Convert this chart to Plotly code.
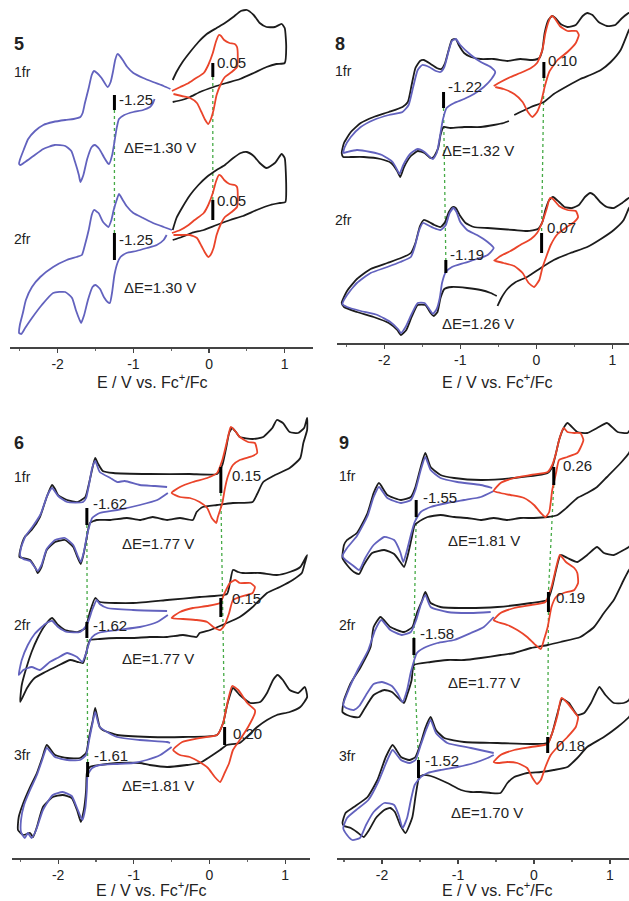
import plotly.graph_objects as go

# ---------------- data: (E / V vs Fc+/Fc, current a.u.) ----------------
# Panel 5
p5_fr1_blue = [(-0.51,258),(-0.60,261),(-0.74,265),(-0.87,269),(-1.00,274),(-1.08,280),(-1.14,287),(-1.19,292),(-1.21,293),(-1.24,287),(-1.27,275),(-1.30,265),(-1.34,260),(-1.42,269),(-1.48,274),(-1.52,276),(-1.55,272),(-1.59,259),(-1.64,244),(-1.67,234),(-1.70,230),(-1.79,228),(-1.90,227),(-2.06,225),(-2.19,222),(-2.30,216),(-2.39,208),(-2.45,197),(-2.50,187),(-2.51,183),
               (-2.49,182),(-2.43,185),(-2.32,191),(-2.19,198),(-2.04,202),(-1.90,201),(-1.82,196),(-1.77,185),(-1.72,172),(-1.70,165),(-1.66,172),(-1.61,188),(-1.55,200),(-1.51,202),(-1.45,198),(-1.39,190),(-1.34,184),(-1.32,183),(-1.28,192),(-1.25,205),(-1.22,219),(-1.19,228),(-1.12,232),(-1.00,235),(-0.87,237),(-0.78,240),(-0.74,244),(-0.72,248)]
p5_fr1_red = [(-0.49,256),(-0.38,260),(-0.27,264),(-0.19,268),(-0.07,274),(-0.01,282),(0.05,294),(0.09,305),(0.13,312),(0.16,311),(0.20,307),(0.27,304),(0.34,303),(0.37,300),(0.38,290),(0.37,280),(0.30,275),(0.21,270),(0.15,262),(0.10,252),(0.06,237),(0.02,227),(-0.01,223),(-0.05,227),(-0.10,235),(-0.16,244),(-0.25,249),(-0.36,251),(-0.47,253)]
p5_fr1_black = [(-0.48,245),(-0.36,247),(-0.25,250),(-0.12,255),(0.06,260),(0.23,264),(0.41,268),(0.59,274),(0.76,280),(0.89,283),(1.00,284),(1.02,300),(1.00,319),(0.96,323),(0.87,320),(0.76,320),(0.67,324),(0.59,332),(0.50,337),(0.42,336),(0.32,330),(0.21,324),(0.10,319),(-0.03,313),(-0.14,305),(-0.25,295),(-0.35,285),(-0.43,275),(-0.48,267)]
p5_fr2_blue = [(-0.49,117),(-0.60,120),(-0.74,124),(-0.87,129),(-1.00,134),(-1.09,141),(-1.14,147),(-1.19,153),(-1.22,147),(-1.26,137),(-1.29,127),(-1.33,120),(-1.40,125),(-1.46,134),(-1.52,137),(-1.55,132),(-1.59,117),(-1.64,102),(-1.68,92),(-1.75,90),(-1.88,87),(-2.06,80),(-2.23,70),(-2.34,60),(-2.42,47),(-2.46,34),(-2.50,22),(-2.51,14),
               (-2.48,13),(-2.43,19),(-2.34,29),(-2.21,42),(-2.06,54),(-1.90,55),(-1.81,49),(-1.76,37),(-1.71,27),(-1.69,24),(-1.65,32),(-1.60,47),(-1.54,60),(-1.50,62),(-1.44,58),(-1.39,50),(-1.34,45),(-1.31,44),(-1.28,55),(-1.25,72),(-1.21,84),(-1.17,90),(-1.09,94),(-0.96,96),(-0.82,99),(-0.69,102),(-0.60,107),(-0.56,112)]
p5_fr2_red = [(-0.49,114),(-0.38,117),(-0.27,122),(-0.19,127),(-0.07,134),(-0.01,142),(0.05,154),(0.09,165),(0.13,172),(0.16,171),(0.20,167),(0.27,163),(0.34,162),(0.37,160),(0.38,150),(0.37,140),(0.30,135),(0.21,130),(0.15,122),(0.10,112),(0.06,99),(0.02,92),(-0.01,90),(-0.05,94),(-0.10,101),(-0.16,109),(-0.25,112),(-0.36,112),(-0.47,112)]
p5_fr2_black = [(-0.48,107),(-0.36,110),(-0.23,114),(-0.07,117),(0.10,122),(0.28,127),(0.45,131),(0.63,137),(0.81,142),(0.94,144),(1.01,145),(1.02,160),(1.00,189),(0.96,193),(0.87,184),(0.76,179),(0.67,184),(0.59,191),(0.50,195),(0.42,194),(0.32,189),(0.21,182),(0.10,177),(-0.03,170),(-0.14,162),(-0.25,152),(-0.35,140),(-0.43,129),(-0.48,117)]

# Panel 8
p8_fr1_blue = [(-0.54,271),(-0.60,276),(-0.73,281),(-0.86,288),(-1.00,298),(-1.06,304),(-1.11,302),(-1.16,290),(-1.21,276),(-1.26,271),(-1.32,272),(-1.41,276),(-1.50,278),(-1.56,273),(-1.62,256),(-1.68,238),(-1.76,231),(-1.94,228),(-2.14,223),(-2.31,216),(-2.44,206),(-2.52,196),(-2.54,190),
               (-2.49,191),(-2.36,193),(-2.18,191),(-2.03,188),(-1.89,181),(-1.83,173),(-1.80,169),(-1.75,178),(-1.66,189),(-1.56,194),(-1.47,191),(-1.40,186),(-1.36,184),(-1.31,190),(-1.27,205),(-1.23,223),(-1.18,235),(-1.08,240),(-0.95,244),(-0.82,249),(-0.69,256),(-0.59,264),(-0.54,271)]
p8_fr1_red = [(-0.56,257),(-0.47,261),(-0.34,266),(-0.21,270),(-0.07,275),(0.01,280),(0.08,293),(0.12,310),(0.17,323),(0.20,327),(0.24,325),(0.31,317),(0.41,312),(0.53,312),(0.56,308),(0.52,300),(0.41,291),(0.28,283),(0.17,271),(0.11,256),(0.07,243),(0.01,231),(-0.05,226),(-0.11,231),(-0.18,241),(-0.29,249),(-0.43,254),(-0.54,256)]
p8_fr1_black = [(-0.29,228),(-0.21,231),(-0.07,236),(0.10,241),(0.23,249),(0.41,257),(0.58,264),(0.71,268),(0.85,273),(0.98,281),(1.11,293),(1.22,313),(1.29,323),(1.22,330),(1.13,325),(1.04,318),(0.93,317),(0.82,321),(0.74,328),(0.67,330),(0.61,327),(0.52,318),(0.41,316),(0.32,319),(0.25,325),(0.21,327),(0.16,323),(0.11,310),(0.08,293),(0.04,285),(-0.05,283),(-0.21,284),(-0.38,282),(-0.56,284),(-0.73,284),(-0.86,286),(-0.95,290),(-1.02,298),(-1.06,304),(-1.11,303),(-1.16,291),(-1.20,280),(-1.25,274),(-1.31,275),(-1.39,279),(-1.48,283),(-1.53,282),(-1.59,275),(-1.64,258),(-1.69,241),(-1.76,236),(-1.94,231),(-2.14,226),(-2.31,220),(-2.44,211),(-2.53,200),(-2.56,190),
                (-2.54,186),(-2.44,186),(-2.27,186),(-2.05,184),(-1.91,180),(-1.83,172),(-1.79,166),(-1.74,176),(-1.65,187),(-1.56,192),(-1.47,190),(-1.39,185),(-1.35,186),(-1.29,195),(-1.26,208),(-1.22,216),(-1.13,215),(-0.95,216),(-0.73,216),(-0.56,218),(-0.43,220),(-0.36,222)]
p8_fr2_blue = [(-0.56,95),(-0.64,101),(-0.78,108),(-0.91,113),(-1.00,121),(-1.05,131),(-1.09,135),(-1.14,130),(-1.19,118),(-1.26,113),(-1.35,115),(-1.43,118),(-1.49,120),(-1.54,113),(-1.60,96),(-1.65,86),(-1.79,81),(-1.96,76),(-2.18,70),(-2.36,60),(-2.49,48),(-2.55,39),
               (-2.49,36),(-2.31,32),(-2.09,28),(-1.92,21),(-1.82,14),(-1.78,10),(-1.72,16),(-1.64,29),(-1.56,40),(-1.47,40),(-1.40,33),(-1.36,29),(-1.31,34),(-1.27,45),(-1.24,60),(-1.19,71),(-1.11,76),(-0.95,80),(-0.78,84),(-0.64,88),(-0.56,95)]
p8_fr2_red = [(-0.56,82),(-0.47,87),(-0.34,92),(-0.21,98),(-0.07,104),(0.01,110),(0.08,121),(0.14,135),(0.18,145),(0.22,144),(0.30,137),(0.41,133),(0.52,132),(0.55,126),(0.50,121),(0.40,116),(0.28,109),(0.19,98),(0.13,86),(0.08,75),(0.04,63),(-0.03,56),(-0.10,60),(-0.18,70),(-0.29,77),(-0.43,80),(-0.54,82)]
p8_fr2_black = [(-0.51,37),(-0.46,45),(-0.38,54),(-0.27,61),(-0.12,66),(0.06,75),(0.23,83),(0.45,90),(0.67,96),(0.85,104),(1.02,113),(1.15,123),(1.22,135),(1.29,143),(1.22,145),(1.13,140),(1.02,135),(0.93,136),(0.84,141),(0.76,148),(0.71,150),(0.64,146),(0.56,138),(0.47,135),(0.37,136),(0.30,141),(0.22,146),(0.17,143),(0.12,133),(0.08,121),(0.02,114),(-0.12,112),(-0.29,113),(-0.47,114),(-0.64,115),(-0.82,116),(-0.93,120),(-1.00,127),(-1.06,135),(-1.10,136),(-1.15,131),(-1.20,121),(-1.26,116),(-1.34,118),(-1.41,121),(-1.48,123),(-1.53,117),(-1.59,100),(-1.65,90),(-1.78,85),(-1.96,80),(-2.18,74),(-2.36,64),(-2.49,52),(-2.56,40),
                (-2.53,36),(-2.36,31),(-2.14,26),(-1.94,20),(-1.83,13),(-1.78,8),(-1.71,13),(-1.64,26),(-1.56,38),(-1.46,38),(-1.39,30),(-1.35,27),(-1.30,31),(-1.26,45),(-1.21,54),(-1.11,56),(-0.91,55),(-0.73,53),(-0.60,50),(-0.52,47)]

# Panel 6
p6_fr1_blue = [(-0.56,371),(-0.72,372),(-0.92,373),(-1.12,377),(-1.22,376),(-1.31,380),(-1.45,386),(-1.51,397),(-1.55,390),(-1.59,374),(-1.63,360),(-1.67,356),(-1.88,356),(-2.00,362),(-2.08,370),(-2.14,363),(-2.23,344),(-2.34,331),(-2.43,322),(-2.49,310),(-2.50,302),
               (-2.46,299),(-2.37,297),(-2.31,291),(-2.27,287),(-2.22,293),(-2.15,309),(-2.04,318),(-1.91,320),(-1.80,313),(-1.74,302),(-1.70,296),(-1.66,306),(-1.62,322),(-1.59,331),(-1.55,340),(-1.45,345),(-1.22,348),(-0.92,353),(-0.69,358),(-0.55,365)]
p6_fr1_red = [(-0.50,365),(-0.39,371),(-0.22,376),(-0.03,380),(0.10,385),(0.17,398),(0.22,413),(0.26,426),(0.28,431),(0.34,427),(0.40,421),(0.51,416),(0.60,415),(0.63,405),(0.57,402),(0.40,398),(0.31,393),(0.24,381),(0.20,368),(0.17,355),(0.11,341),(0.09,335),(0.03,340),(-0.03,350),(-0.13,356),(-0.26,360),(-0.39,361),(-0.50,365)]
p6_fr1_black = [(0.10,384),(0.17,393),(0.22,410),(0.26,425),(0.30,430),(0.35,426),(0.40,421),(0.57,419),(0.71,421),(0.83,430),(0.89,438),(0.97,435),(1.06,426),(1.17,425),(1.25,430),(1.29,440),(1.29,428),(1.24,415),(1.20,400),(1.06,390),(0.84,382),(0.71,376),(0.63,364),(0.57,356),(0.31,355),(0.10,353),(-0.09,351),(-0.17,346),(-0.22,338),(-0.39,340),(-0.56,338),(-0.75,341),(-0.92,338),(-1.09,340),(-1.31,338),(-1.49,338),(-1.58,335),(-1.62,321),(-1.66,305),(-1.70,294),(-1.74,300),(-1.80,311),(-1.91,318),(-2.04,316),(-2.15,308),(-2.22,291),(-2.27,285),(-2.30,290),(-2.37,298),(-2.46,300),(-2.51,301),
                (-2.49,311),(-2.44,321),(-2.35,328),(-2.24,341),(-2.15,361),(-2.08,373),(-2.04,369),(-2.00,363),(-1.88,358),(-1.74,356),(-1.64,361),(-1.59,375),(-1.54,392),(-1.51,400),(-1.47,394),(-1.41,387),(-1.27,385),(-0.79,384),(-0.26,384),(0.10,384)]
p6_fr2_blue = [(-0.56,247),(-1.01,248),(-1.35,250),(-1.45,254),(-1.49,258),(-1.55,248),(-1.62,233),(-1.71,226),(-1.88,226),(-2.00,231),(-2.08,237),(-2.17,234),(-2.31,224),(-2.40,213),(-2.48,198),(-2.52,183),
               (-2.46,188),(-2.35,191),(-2.24,188),(-2.11,196),(-2.01,200),(-1.88,205),(-1.75,201),(-1.68,196),(-1.63,205),(-1.59,215),(-1.55,221),(-1.47,225),(-1.22,228),(-0.92,231),(-0.69,236),(-0.55,243)]
p6_fr2_red = [(-0.50,240),(-0.39,246),(-0.22,250),(-0.03,252),(0.14,255),(0.20,265),(0.27,275),(0.34,278),(0.40,275),(0.54,275),(0.60,271),(0.57,265),(0.40,261),(0.31,258),(0.26,245),(0.20,233),(0.14,228),(0.05,231),(-0.03,236),(-0.17,238),(-0.35,239),(-0.50,240)]
p6_fr2_black = [(0.23,264),(0.27,275),(0.31,288),(0.38,286),(0.44,285),(0.67,285),(0.89,283),(1.06,286),(1.20,291),(1.29,303),(1.26,295),(1.22,285),(1.10,278),(0.93,271),(0.76,265),(0.57,251),(0.40,241),(0.23,235),(0.01,228),(-0.13,225),(-0.17,221),(-0.35,223),(-0.56,221),(-0.79,221),(-1.01,220),(-1.22,220),(-1.45,219),(-1.58,218),(-1.61,211),(-1.63,205),(-1.67,195),(-1.74,196),(-1.84,198),(-2.01,192),(-2.17,186),(-2.31,180),(-2.41,170),(-2.50,156),
                (-2.48,173),(-2.42,190),(-2.35,206),(-2.27,220),(-2.17,233),(-2.08,240),(-2.00,233),(-1.91,228),(-1.74,226),(-1.64,230),(-1.58,246),(-1.51,260),(-1.45,256),(-1.01,255),(-0.56,258),(-0.13,261),(0.23,264)]
p6_fr3_blue = [(-0.52,115),(-0.56,116),(-0.92,118),(-1.22,121),(-1.45,131),(-1.51,146),(-1.55,133),(-1.59,118),(-1.63,103),(-1.71,98),(-1.88,98),(-2.04,101),(-2.15,110),(-2.21,98),(-2.28,83),(-2.37,68),(-2.45,53),(-2.49,38),(-2.49,26),
               (-2.44,20),(-2.40,25),(-2.35,20),(-2.29,28),(-2.20,48),(-2.07,63),(-1.94,66),(-1.82,62),(-1.75,50),(-1.68,38),(-1.64,50),(-1.62,68),(-1.61,83),(-1.55,90),(-1.45,93),(-1.22,94),(-1.01,95),(-0.83,98),(-0.65,103),(-0.50,111)]
p6_fr3_red = [(-0.48,108),(-0.36,116),(-0.13,120),(0.10,123),(0.18,135),(0.24,156),(0.30,172),(0.38,168),(0.50,155),(0.60,148),(0.60,145),(0.51,131),(0.40,118),(0.31,108),(0.26,95),(0.20,85),(0.14,76),(0.07,81),(-0.02,90),(-0.13,96),(-0.26,101),(-0.39,103),(-0.48,108)]
p6_fr3_black = [(0.10,123),(0.18,135),(0.24,155),(0.31,170),(0.40,163),(0.54,155),(0.67,156),(0.76,165),(0.84,178),(0.90,183),(0.97,178),(1.06,168),(1.17,165),(1.26,171),(1.29,161),(1.20,151),(1.06,146),(0.89,143),(0.76,138),(0.63,131),(0.40,115),(0.23,113),(0.14,108),(-0.13,95),(-0.30,93),(-0.56,91),(-0.79,93),(-0.92,95),(-1.22,95),(-1.45,93),(-1.58,91),(-1.62,85),(-1.63,68),(-1.66,48),(-1.70,36),(-1.75,48),(-1.82,60),(-1.94,63),(-2.07,61),(-2.20,51),(-2.28,31),(-2.33,21),(-2.37,25),(-2.46,23),(-2.53,28),
                (-2.52,41),(-2.46,55),(-2.37,71),(-2.28,85),(-2.21,100),(-2.15,113),(-2.04,103),(-1.88,100),(-1.71,100),(-1.63,105),(-1.59,121),(-1.54,138),(-1.51,150),(-1.45,131),(-1.41,128),(-1.22,123),(-0.79,121),(-0.35,121),(0.10,123)]

# Panel 9
p9_fr1_blue = [(-0.55,370),(-0.70,373),(-1.01,376),(-1.23,380),(-1.36,388),(-1.43,401),(-1.49,388),(-1.56,368),(-1.62,358),(-1.75,355),(-1.93,360),(-2.04,371),(-2.11,361),(-2.19,342),(-2.33,322),(-2.46,310),(-2.52,302),
               (-2.48,298),(-2.39,293),(-2.30,288),(-2.22,300),(-2.11,313),(-1.97,321),(-1.84,318),(-1.76,306),(-1.72,296),(-1.67,308),(-1.62,323),(-1.57,336),(-1.49,346),(-1.36,351),(-1.14,355),(-0.92,358),(-0.70,361),(-0.53,367)]
p9_fr1_red = [(-0.53,367),(-0.44,375),(-0.26,380),(-0.04,383),(0.18,386),(0.24,393),(0.29,405),(0.33,418),(0.39,430),(0.44,426),(0.53,425),(0.61,425),(0.65,418),(0.61,410),(0.57,405),(0.44,401),(0.33,398),(0.29,385),(0.24,368),(0.20,346),(0.15,341),(0.09,345),(0.00,353),(-0.13,360),(-0.31,363),(-0.44,365),(-0.53,367)]
p9_fr1_black = [(1.30,413),(1.25,405),(1.14,395),(0.96,381),(0.83,371),(0.70,365),(0.57,360),(0.44,351),(0.31,343),(0.18,341),(0.00,340),(-0.18,340),(-0.35,338),(-0.53,340),(-0.70,338),(-0.88,340),(-1.05,341),(-1.23,343),(-1.40,341),(-1.54,335),(-1.57,333),(-1.61,320),(-1.66,303),(-1.71,291),(-1.76,296),(-1.84,304),(-1.97,308),(-2.13,305),(-2.24,293),(-2.30,284),(-2.37,286),(-2.46,293),(-2.52,300),
                (-2.50,313),(-2.46,318),(-2.33,325),(-2.19,345),(-2.11,365),(-2.04,375),(-1.93,363),(-1.75,358),(-1.62,361),(-1.56,371),(-1.49,391),(-1.43,405),(-1.36,391),(-1.23,383),(-1.05,380),(-0.70,378),(-0.26,380),(0.18,385),(0.24,391),(0.29,405),(0.33,418),(0.39,430),(0.44,435),(0.57,426),(0.70,425),(0.83,430),(0.96,435),(1.10,426),(1.23,425),(1.30,433)]
p9_fr2_blue = [(-0.57,246),(-0.83,245),(-1.14,246),(-1.36,251),(-1.43,263),(-1.49,253),(-1.55,238),(-1.62,226),(-1.74,223),(-1.89,228),(-2.01,238),(-2.09,228),(-2.18,208),(-2.32,188),(-2.43,170),(-2.51,153),
               (-2.47,150),(-2.37,148),(-2.30,152),(-2.21,163),(-2.11,174),(-2.00,176),(-1.87,172),(-1.79,164),(-1.73,156),(-1.67,168),(-1.62,186),(-1.54,205),(-1.45,210),(-1.27,215),(-1.05,218),(-0.83,225),(-0.66,231),(-0.53,241)]
p9_fr2_red = [(-0.53,238),(-0.44,245),(-0.26,250),(-0.04,253),(0.15,256),(0.23,271),(0.29,290),(0.34,303),(0.42,296),(0.53,290),(0.57,285),(0.58,275),(0.53,268),(0.39,265),(0.29,261),(0.23,251),(0.18,231),(0.13,218),(0.09,209),(0.02,213),(-0.09,221),(-0.22,228),(-0.35,233),(-0.48,236),(-0.53,238)]
p9_fr2_black = [(1.30,293),(1.25,288),(1.18,278),(1.05,258),(0.92,245),(0.79,231),(0.61,221),(0.35,216),(0.18,213),(-0.04,210),(-0.26,205),(-0.44,203),(-0.70,200),(-0.92,198),(-1.14,198),(-1.36,196),(-1.58,193),(-1.61,178),(-1.67,163),(-1.71,155),(-1.76,158),(-1.87,166),(-1.97,168),(-2.11,163),(-2.24,148),(-2.30,141),(-2.37,141),(-2.46,143),(-2.52,146),
                (-2.50,158),(-2.41,175),(-2.28,191),(-2.15,211),(-2.11,231),(-2.02,241),(-1.89,231),(-1.71,226),(-1.60,231),(-1.54,245),(-1.47,258),(-1.43,266),(-1.36,255),(-1.23,251),(-0.92,250),(-0.48,251),(-0.04,255),(0.18,258),(0.24,271),(0.29,288),(0.35,303),(0.44,300),(0.57,296),(0.70,303),(0.83,311),(0.92,305),(1.05,303),(1.18,308),(1.25,311),(1.30,318)]
p9_fr3_blue = [(-0.53,105),(-0.83,110),(-1.14,115),(-1.29,125),(-1.36,138),(-1.42,128),(-1.49,113),(-1.56,98),(-1.64,95),(-1.75,98),(-1.86,108),(-1.93,98),(-2.05,76),(-2.18,58),(-2.34,48),(-2.46,40),(-2.51,30),
               (-2.46,23),(-2.39,18),(-2.29,20),(-2.21,33),(-2.11,46),(-1.97,55),(-1.84,53),(-1.78,43),(-1.73,30),(-1.67,40),(-1.62,58),(-1.57,73),(-1.49,81),(-1.40,85),(-1.23,88),(-1.01,91),(-0.79,95),(-0.61,100),(-0.53,103)]
p9_fr3_red = [(-0.53,96),(-0.44,103),(-0.26,108),(-0.04,111),(0.18,114),(0.24,125),(0.31,143),(0.36,160),(0.44,155),(0.53,146),(0.58,141),(0.55,131),(0.44,121),(0.31,111),(0.22,103),(0.15,91),(0.09,78),(0.04,74),(-0.02,80),(-0.09,90),(-0.22,95),(-0.35,96),(-0.48,95),(-0.53,96)]
p9_fr3_black = [(1.30,146),(1.25,141),(1.10,131),(0.92,121),(0.70,111),(0.57,100),(0.44,91),(0.26,88),(0.09,86),(-0.09,85),(-0.26,81),(-0.35,75),(-0.44,65),(-0.57,65),(-0.70,66),(-0.83,66),(-0.96,68),(-1.14,75),(-1.32,81),(-1.45,83),(-1.51,81),(-1.53,75),(-1.56,61),(-1.60,41),(-1.69,25),(-1.76,33),(-1.83,46),(-1.89,50),(-1.97,48),(-2.08,40),(-2.17,28),(-2.24,21),(-2.33,26),(-2.41,30),(-2.50,32),(-2.52,35),
                (-2.48,45),(-2.37,51),(-2.19,61),(-2.06,78),(-1.95,101),(-1.86,113),(-1.75,101),(-1.64,98),(-1.56,101),(-1.49,115),(-1.43,130),(-1.36,141),(-1.29,128),(-1.18,120),(-0.92,116),(-0.48,115),(-0.04,114),(0.18,115),(0.24,125),(0.31,145),(0.37,159),(0.46,155),(0.57,143),(0.66,145),(0.75,155),(0.86,171),(0.94,163),(1.05,155),(1.18,155),(1.25,158),(1.30,168)]

# half-wave potential markers: (E, I_top, I_bottom)
p5_marks = [(-1.25,252,237),(0.05,284,270),(-1.25,114,87),(0.05,147,127)]
p8_marks = [(-1.22,251,235),(0.10,281,265),(-1.19,83,70),(0.07,110,90)]
p6_marks = [(-1.62,350,333),(0.15,391,365),(-1.62,236,220),(0.15,260,241),(-1.61,96,81),(0.20,131,113)]
p9_marks = [(-1.55,358,341),(0.26,391,373),(-1.58,220,203),(0.19,266,246),(-1.52,98,80),(0.18,121,105)]

# value labels: (text, E, I)
p5_labels = [("-1.25",-1.22,248),("0.05",0.08,285),("-1.25",-1.22,108),("0.05",0.08,147)]
p8_labels = [("-1.22",-1.19,257),("0.10",0.13,283),("-1.19",-1.16,89),("0.07",0.11,116)]
p6_labels = [("-1.62",-1.56,355),("0.15",0.27,383),("-1.62",-1.56,233),("0.15",0.27,260),("-1.61",-1.55,103),("0.20",0.29,125)]
p9_labels = [("-1.55",-1.49,361),("0.26",0.35,393),("-1.58",-1.52,225),("0.19",0.26,261),("-1.52",-1.46,98),("0.18",0.26,113)]

# separation labels: (text, E, I)
p5_dE = [("ΔE=1.30 V",-0.65,200),("ΔE=1.30 V",-0.65,60)]
p8_dE = [("ΔE=1.32 V",-0.77,193),("ΔE=1.26 V",-0.77,20)]
p6_dE = [("ΔE=1.77 V",-0.68,315),("ΔE=1.77 V",-0.68,200),("ΔE=1.81 V",-0.68,73)]
p9_dE = [("ΔE=1.81 V",-0.66,318),("ΔE=1.77 V",-0.66,176),("ΔE=1.70 V",-0.62,46)]

# guide lines (E, I) pairs
p5_guides = [[(-1.25,237),(-1.25,114)],[(0.05,270),(0.05,147)]]
p8_guides = [[(-1.22,235),(-1.19,83)],[(0.10,265),(0.07,110)]]
p6_guides = [[(-1.62,333),(-1.61,96)],[(0.15,365),(0.20,131)]]
p9_guides = [[(-1.55,341),(-1.58,220)],[(-1.58,203),(-1.52,98)],[(0.26,373),(0.19,266)],[(0.19,246),(0.18,121)]]

tick_vals = [-2, -1, 0, 1]
tick_text = ["-2", "-1", "0", "1"]

# ---------------- figure ----------------
W, H = 629, 901
BLUE = "rgb(98,98,190)"
RED = "rgb(234,68,42)"
BLACK = "rgb(28,28,28)"
GREEN = "rgb(70,170,70)"
TXT = "#222222"
FONT = "Liberation Sans, Arial, sans-serif"

fig = go.Figure()

panels = [
    dict(ax="", curves=[(p5_fr1_black, BLACK), (p5_fr1_blue, BLUE), (p5_fr1_red, RED),
                        (p5_fr2_black, BLACK), (p5_fr2_blue, BLUE), (p5_fr2_red, RED)],
         marks=p5_marks, labels=p5_labels, dE=p5_dE, guides=p5_guides,
         xdom=[10/W, 313/W], xr=[-2.630, 1.374], ydom=[1-347/H, 1.0], yr=[0, 347]),
    dict(ax="2", curves=[(p8_fr1_black, BLACK), (p8_fr1_blue, BLUE), (p8_fr1_red, RED),
                         (p8_fr2_black, BLACK), (p8_fr2_blue, BLUE), (p8_fr2_red, RED)],
         marks=p8_marks, labels=p8_labels, dE=p8_dE, guides=p8_guides,
         xdom=[337/W, 1.0], xr=[-2.622, 1.220], ydom=[1-343/H, 1.0], yr=[0, 343]),
    dict(ax="3", curves=[(p6_fr1_black, BLACK), (p6_fr1_blue, BLUE), (p6_fr1_red, RED),
                         (p6_fr2_black, BLACK), (p6_fr2_blue, BLUE), (p6_fr2_red, RED),
                         (p6_fr3_black, BLACK), (p6_fr3_blue, BLUE), (p6_fr3_red, RED)],
         marks=p6_marks, labels=p6_labels, dE=p6_dE, guides=p6_guides,
         xdom=[12/W, 310/W], xr=[-2.609, 1.328], ydom=[1-858/H, 1-400/H], yr=[0, 458]),
    dict(ax="4", curves=[(p9_fr1_black, BLACK), (p9_fr1_blue, BLUE), (p9_fr1_red, RED),
                         (p9_fr2_black, BLACK), (p9_fr2_blue, BLUE), (p9_fr2_red, RED),
                         (p9_fr3_black, BLACK), (p9_fr3_blue, BLUE), (p9_fr3_red, RED)],
         marks=p9_marks, labels=p9_labels, dE=p9_dE, guides=p9_guides,
         xdom=[337/W, 1.0], xr=[-2.592, 1.250], ydom=[1-858/H, 1-400/H], yr=[0, 458]),
]

annotations = []
for p in panels:
    xa, ya = "x" + p["ax"], "y" + p["ax"]
    for g in p["guides"]:
        fig.add_trace(go.Scatter(x=[q[0] for q in g], y=[q[1] for q in g], mode="lines",
                                 line=dict(color=GREEN, width=1.3, dash="dot"),
                                 xaxis=xa, yaxis=ya, hoverinfo="skip", showlegend=False))
    for pts, col in p["curves"]:
        fig.add_trace(go.Scatter(x=[q[0] for q in pts], y=[q[1] for q in pts], mode="lines",
                                 line=dict(color=col, width=1.8, shape="spline", smoothing=0.5),
                                 xaxis=xa, yaxis=ya, hoverinfo="skip", showlegend=False))
    for e, top, bot in p["marks"]:
        fig.add_trace(go.Scatter(x=[e, e], y=[top, bot], mode="lines",
                                 line=dict(color="black", width=3),
                                 xaxis=xa, yaxis=ya, hoverinfo="skip", showlegend=False))
    for t, e, i in p["labels"]:
        annotations.append(dict(text=t, x=e, y=i, xref=xa, yref=ya, showarrow=False,
                                xanchor="left", yanchor="middle",
                                font=dict(size=15, color=TXT, family=FONT)))
    for t, e, i in p["dE"]:
        annotations.append(dict(text=t, x=e, y=i, xref=xa, yref=ya, showarrow=False,
                                xanchor="center", yanchor="middle",
                                font=dict(size=15, color=TXT, family=FONT)))

axis_common = dict(showline=True, linecolor="#444", linewidth=1.5, showgrid=False, zeroline=False,
                   ticks="outside", ticklen=4, tickwidth=1.2, tickcolor="#444",
                   tickvals=tick_vals, ticktext=tick_text,
                   tickfont=dict(size=14, color=TXT, family=FONT),
                   minor=dict(tickvals=[-2.5, -1.5, -0.5, 0.5], ticks="outside", ticklen=2, tickcolor="#666"))
layout = dict(width=W, height=H, margin=dict(l=0, r=0, t=0, b=0),
              paper_bgcolor="white", plot_bgcolor="white", showlegend=False)
for p in panels:
    n = p["ax"]
    layout["xaxis" + n] = dict(axis_common, domain=p["xdom"], range=p["xr"], anchor="y" + n)
    layout["yaxis" + n] = dict(domain=p["ydom"], range=p["yr"], visible=False, anchor="x" + n, fixedrange=True)

# panel numbers, scan labels and axis titles (page positions)
def paper_text(t, px, py, size=13, bold=False, anchor="left"):
    annotations.append(dict(text=("<b>%s</b>" % t) if bold else t, x=px / W, y=1 - py / H,
                            xref="paper", yref="paper", showarrow=False,
                            xanchor=anchor, yanchor="middle",
                            font=dict(size=size, color=TXT, family=FONT)))

compound_labels = [("5", 12, 44), ("8", 333, 44), ("6", 12, 443), ("9", 337, 443)]
scan_labels = [("1fr", 12, 72), ("2fr", 12, 239), ("1fr", 333, 71), ("2fr", 333, 220),
               ("1fr", 12, 477), ("2fr", 12, 625), ("3fr", 12, 755),
               ("1fr", 337, 476), ("2fr", 337, 625), ("3fr", 337, 756)]
axis_titles = [(152, 381), (497, 381), (151, 889), (497, 889)]
for t, x, y in compound_labels:
    paper_text(t, x, y, size=18, bold=True)
for t, x, y in scan_labels:
    paper_text(t, x, y, size=14)
for x, y in axis_titles:
    paper_text("E / V vs. Fc<sup>+</sup>/Fc", x, y, size=16, anchor="center")

layout["annotations"] = annotations
fig.update_layout(**layout)
fig.write_html("out.html",
               config={"displayModeBar": False, "staticPlot": True},
               post_script="document.body.style.margin='0px';document.body.style.overflow='hidden';")
